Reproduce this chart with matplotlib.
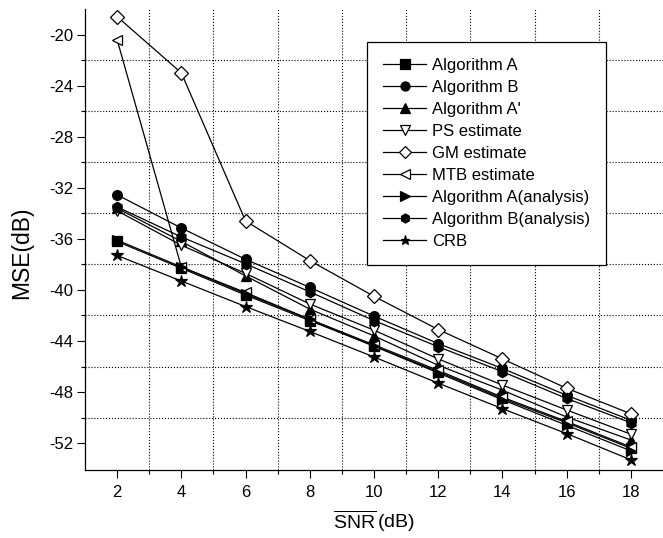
import matplotlib
matplotlib.use('Agg')
import matplotlib.pyplot as plt
from matplotlib.ticker import MultipleLocator, FixedLocator

plt.rcParams['font.family'] = ['Liberation Sans', 'DejaVu Sans']
plt.rcParams['mathtext.fontset'] = 'custom'
plt.rcParams['mathtext.rm'] = 'Liberation Sans'
plt.rcParams['axes.unicode_minus'] = False

snr = [2, 4, 6, 8, 10, 12, 14, 16, 18]

alg_a = [-36.2, -38.3, -40.4, -42.4, -44.4, -46.4, -48.5, -50.4, -52.4]
alg_b = [-32.55, -35.15, -37.6, -39.8, -42.05, -44.2, -46.15, -48.25, -50.2]
alg_a2 = [-33.6, -36.2, -38.9, -41.5, -43.6, -45.9, -47.85, -49.95, -51.75]
ps_est = [-33.8, -36.5, -38.7, -41.1, -43.15, -45.4, -47.45, -49.4, -51.3]
gm_est = [-18.6, -23.0, -34.6, -37.7, -40.5, -43.1, -45.4, -47.7, -49.7]
mtb_est = [-20.4, -38.2, -40.2, -42.3, -44.3, -46.3, -48.4, -50.3, -52.3]
alg_a_an = [-36.1, -38.2, -40.3, -42.3, -44.4, -46.5, -48.6, -50.6, -52.6]
alg_b_an = [-33.5, -35.85, -37.95, -40.15, -42.4, -44.45, -46.4, -48.5, -50.4]
crb = [-37.3, -39.3, -41.3, -43.25, -45.25, -47.3, -49.3, -51.25, -53.3]

series = [
    ('Algorithm A', alg_a, 's', 'k', 6.5),
    ('Algorithm B', alg_b, 'o', 'k', 7),
    ("Algorithm A'", alg_a2, '^', 'k', 7),
    ('PS estimate', ps_est, 'v', 'w', 7.5),
    ('GM estimate', gm_est, 'D', 'w', 7),
    ('MTB estimate', mtb_est, '<', 'w', 7.5),
    ('Algorithm A(analysis)', alg_a_an, '>', 'k', 7),
    ('Algorithm B(analysis)', alg_b_an, 'h', 'k', 7.5),
    ('CRB', crb, '*', 'k', 9),
]

fig = plt.figure(figsize=(6.63, 5.38), dpi=100)
ax = fig.add_axes([85 / 663, 68 / 538, 1 - 85 / 663, (470 - 9) / 538])

for name, vals, mk, fc, ms in series:
    ax.plot(snr, vals, color='k', lw=0.9, marker=mk, ms=ms,
            mfc=fc, mec='k', mew=0.9, label=name)

ax.set_xlim(1, 19)
ax.set_ylim(-54.1, -18)
ax.xaxis.set_major_locator(MultipleLocator(2))
ax.xaxis.set_minor_locator(FixedLocator(list(range(3, 18, 2))))
ax.yaxis.set_major_locator(FixedLocator(list(range(-52, -19, 4))))
ax.yaxis.set_minor_locator(FixedLocator(list(range(-50, -21, 4))))
ax.grid(which='minor', color='k', linestyle=':', linewidth=0.8)
ax.grid(which='major', visible=False)

for s in ['top', 'right']:
    ax.spines[s].set_visible(False)
for s in ['left', 'bottom']:
    ax.spines[s].set_linewidth(0.9)

ax.tick_params(which='major', direction='out', length=5.5, width=0.8, labelsize=12)
ax.tick_params(which='minor', direction='out', length=3, width=0.8)
ax.tick_params(axis='x', pad=5)
ax.tick_params(axis='y', pad=3)

ax.set_xlabel(r'$\overline{\mathrm{SNR}}\,$(dB)', fontsize=14, labelpad=6)
ax.set_ylabel('MSE(dB)', fontsize=16.5)
ax.yaxis.set_label_coords((33 - 85) / 578, (470 - 253) / 461)

leg = ax.legend(loc='upper left', bbox_to_anchor=(367 / 663, 1 - 42 / 538),
                bbox_transform=fig.transFigure, fontsize=12, frameon=True,
                fancybox=False, edgecolor='k', framealpha=1,
                handlelength=2.6, handletextpad=0.35, labelspacing=0.42,
                borderpad=0.95, borderaxespad=0)
leg.get_frame().set_linewidth(0.9)
for h in leg.legend_handles:
    h.set_markersize(6.5)

fig.savefig('out.png', dpi=100)
